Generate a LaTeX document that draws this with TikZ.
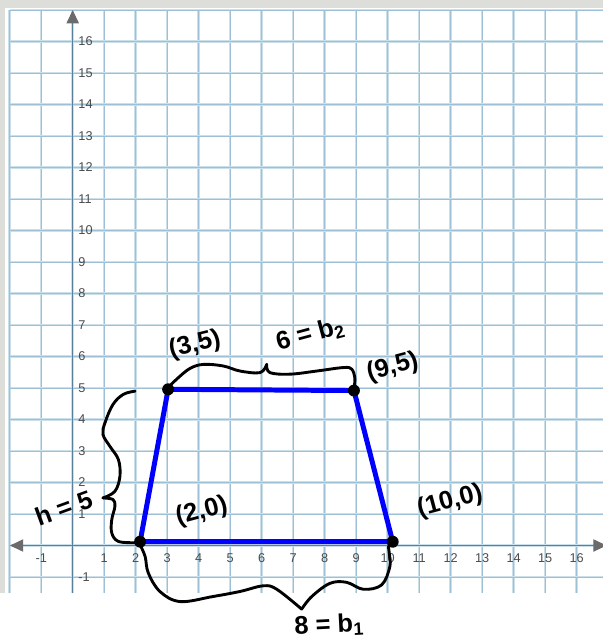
\documentclass[tikz,border=0pt]{standalone}
\usepackage{fontspec}
\setmainfont{Liberation Sans}
\usetikzlibrary{arrows.meta}
\definecolor{gridBlue}{HTML}{CCE0EB}
\definecolor{gridCore}{HTML}{9DC0D4}
\definecolor{axisBlue}{HTML}{57809B}
\definecolor{tipGray}{HTML}{6B6B6B}
\definecolor{labelGray}{HTML}{4A4A4A}
\definecolor{frameGray}{HTML}{DDDDDA}
\begin{document}
\begin{tikzpicture}[
  gridline/.style={gridBlue, line width=2.2pt},
  gridcore/.style={gridCore, line width=0.5pt},
  axis/.style={axisBlue, line width=1.2pt},
  axistip/.tip={Triangle[length=4.2mm, width=3.9mm, color=tipGray]},
  tick/.style={font=\fontsize{11.5}{13}\selectfont, text=labelGray, inner sep=1pt},
  side/.style={blue, line width=4.5pt, line join=round},
  vertex/.style={circle, fill=black, inner sep=0pt, minimum size=3.8mm},
  hand/.style={line width=2.6pt, line cap=round, line join=round},
  note/.style={font=\fontsize{23}{25}\selectfont\bfseries, inner sep=0pt},
]
\useasboundingbox (-2.308,-3.0) rectangle (16.835,17.32);

% grey frame of the screenshot
\fill[frameGray] (-2.308,17.07) rectangle (16.835,17.32);
\fill[frameGray] (-2.308,-1.51) rectangle (-2.15,17.32);

% grid
\foreach \x in {-2,...,16} {
  \draw[gridline] (\x,-1.51) -- (\x,17);
  \draw[gridcore] (\x,-1.51) -- (\x,17);
}
\foreach \y in {-1,...,17} {
  \draw[gridline] (-2,\y) -- (16.835,\y);
  \draw[gridcore] (-2,\y) -- (16.835,\y);
}

% axes
\draw[axis, axistip-axistip] (-1.99,0) -- (16.95,0);
\draw[axis, -axistip] (0,-1.51) -- (0,17);
\foreach \x in {-1,1,2,...,16}
  \node[tick] (tx\x) at (\x,-0.4) {\x};
\foreach \y in {-1,1,2,...,16}
  \node[tick, anchor=west] (ty\y) at (0.14,\y) {\y};

% trapezoid
\coordinate (A) at (2.14,0.12);
\coordinate (B) at (10.16,0.12);
\coordinate (C) at (8.93,4.92);
\coordinate (D) at (3.03,4.96);
\draw[side] (A) -- (B) -- (C) -- (D) -- cycle;
\foreach \p in {A,B,C,D}
  \node[vertex] (dot\p) at (\p) {};

% braces
\draw[hand] plot[smooth, tension=0.6] coordinates {(1.98,4.90) (1.61,4.80) (1.28,4.48) (1.03,3.91)
  (0.96,3.53) (1.18,3.15) (1.45,2.73) (1.50,2.20) (1.34,1.72) (0.96,1.51)};
\draw[hand] plot[smooth, tension=0.6] coordinates {(0.96,1.51) (1.28,1.46) (1.34,1.24)
  (1.24,0.82) (1.24,0.40) (1.45,0.13) (1.98,0.09)};
\draw[hand] plot[smooth, tension=0.6] coordinates {(2.14,0.02) (2.30,-0.35) (2.40,-0.87)
  (2.77,-1.46) (3.41,-1.78) (4.45,-1.62) (5.31,-1.46) (6.05,-1.28) (6.48,-1.39) (7.27,-2.02)};
\draw[hand] plot[smooth, tension=0.6] coordinates {(7.27,-2.02) (7.59,-1.62) (8.17,-1.20)
  (8.70,-1.17) (9.23,-1.39) (9.81,-1.25) (10.07,-0.67) (10.05,-0.24) (10.02,-0.03)};
\draw[hand] plot[smooth, tension=0.6] coordinates {(3.03,5.01) (3.30,5.28) (3.72,5.62)
  (4.15,5.75) (4.78,5.70) (5.31,5.54) (5.95,5.49) (6.16,5.75)};
\draw[hand] plot[smooth, tension=0.6] coordinates {(6.16,5.75) (6.26,5.49) (6.90,5.44)
  (7.75,5.54) (8.59,5.65) (8.86,5.60) (8.96,5.28) (8.91,4.90)};

% handwritten labels
\node[note, rotate=14] (ptD) at (3.88,6.36) {(3,5)};
\node[note, rotate=15] (btop) at (7.54,6.70) {6 = b\textsubscript{2}};
\node[note, rotate=15] (ptC) at (10.16,5.66) {(9,5)};
\node[note, rotate=20] (hgt) at (-0.28,1.20) {h = 5};
\node[note, rotate=15] (ptA) at (4.10,1.07) {(2,0)};
\node[note, rotate=15] (ptB) at (11.98,1.39) {(10,0)};
\node[note, rotate=3] (bbot) at (8.14,-2.55) {8 = b\textsubscript{1}};
\end{tikzpicture}
\end{document}
